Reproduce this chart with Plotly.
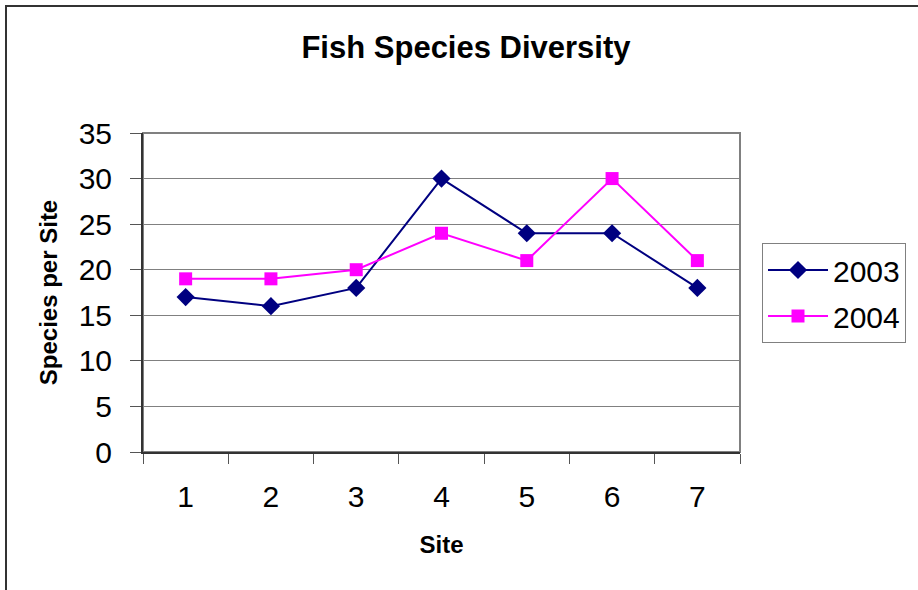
import plotly.graph_objects as go

sites = ["1", "2", "3", "4", "5", "6", "7"]
y2003 = [17, 16, 18, 30, 24, 24, 18]
y2004 = [19, 19, 20, 24, 21, 30, 21]
series_names = ["2003", "2004"]
y_ticks = [0, 5, 10, 15, 20, 25, 30, 35]

W, H = 918, 590
L, R, T, B = 143, 740, 133, 452
FONT = "Liberation Sans, Arial, sans-serif"

fig = go.Figure()
fig.add_trace(go.Scatter(
    x=sites, y=y2003, name=series_names[0], mode="lines+markers",
    line=dict(color="#000080", width=2),
    marker=dict(symbol="diamond", size=14, color="#000080"),
    legendgroup="a",
))
fig.add_trace(go.Scatter(
    x=sites, y=y2004, name=series_names[1], mode="lines+markers",
    line=dict(color="#FF00FF", width=2),
    marker=dict(symbol="square", size=13, color="#FF00FF"),
    legendgroup="b",
))

pw = R - L
ph = B - T


def px(x):
    return (x - L) / pw


def py(y):
    return (B - y) / ph


fig.update_layout(
    width=W, height=H,
    margin=dict(l=L, r=W - R, t=T, b=H - B, pad=0),
    paper_bgcolor="white", plot_bgcolor="white",
    font=dict(family=FONT, color="black"),
    title=dict(text="<b>Fish Species Diversity</b>", x=466 / W, xref="container",
               xanchor="center", y=1 - 47 / H, yref="container", yanchor="middle",
               font=dict(size=31, family=FONT)),
    showlegend=True,
    legend=dict(x=px(762), y=py(243), xanchor="left", yanchor="top",
                bordercolor="#808080", borderwidth=1, bgcolor="white",
                font=dict(size=30, family=FONT), tracegroupgap=4,
                itemwidth=60),
    xaxis=dict(type="category", tickson="boundaries", range=[-0.5, 6.5],
               showline=True, linecolor="#333333", linewidth=2,
               ticks="outside", ticklen=10, tickcolor="#555555", tickwidth=1,
               showgrid=False, tickfont=dict(size=30, family=FONT),
               ticklabelstandoff=17,
               title=dict(text="<b>Site</b>", font=dict(size=24, family=FONT), standoff=24)),
    yaxis=dict(range=[0, 35], tickvals=y_ticks, showline=True, linecolor="#333333",
               linewidth=2, ticks="outside", ticklen=11, tickcolor="#555555",
               tickwidth=1, showgrid=True, gridcolor="#808080", gridwidth=1,
               zeroline=False, tickfont=dict(size=30, family=FONT),
               ticklabelstandoff=12,
               title=dict(text="<b>Species per Site</b>", font=dict(size=24, family=FONT),
                          standoff=14)),
    shapes=[
        dict(type="rect", xref="paper", yref="paper", x0=0, x1=1, y0=0, y1=1,
             line=dict(color="#808080", width=2), layer="below"),
        dict(type="rect", xref="paper", yref="paper", x0=px(6), x1=px(1000),
             y0=py(1000), y1=py(6), line=dict(color="#333333", width=2),
             fillcolor="rgba(0,0,0,0)", layer="below"),
    ],
)

fig.write_html("out.html", config={"displayModeBar": False},
               post_script="document.body.style.margin='0px';")
